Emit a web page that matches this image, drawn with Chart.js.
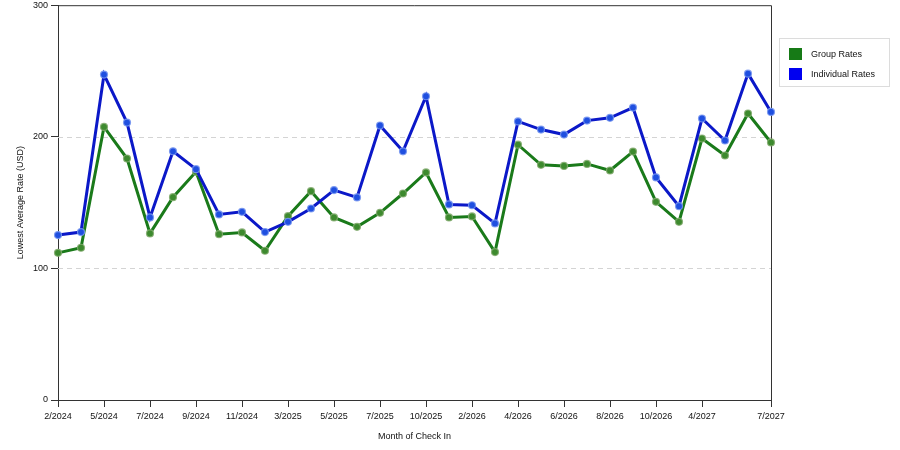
<!DOCTYPE html>
<html>
<head>
<meta charset="utf-8">
<script src="https://cdn.jsdelivr.net/npm/chart.js@4/dist/chart.umd.min.js"></script>
<style>
  html, body { margin: 0; padding: 0; background: #fff; }
  #wrap { width: 900px; height: 450px; }
</style>
</head>
<body>
<div id="wrap"><canvas id="the-chart" width="900" height="450"></canvas></div>
<script>
// Months on the x axis (only some of them carry a visible label)
const months = ['2/2024', '3/2024', '5/2024', '6/2024', '7/2024', '8/2024', '9/2024', '10/2024',
  '11/2024', '1/2025', '3/2025', '4/2025', '5/2025', '6/2025', '7/2025', '9/2025',
  '10/2025', '12/2025', '2/2026', '3/2026', '4/2026', '5/2026', '6/2026', '7/2026',
  '8/2026', '9/2026', '10/2026', '11/2026', '4/2027', '5/2027', '6/2027', '7/2027'];
const shownLabels = ['2/2024', '5/2024', '7/2024', '9/2024', '11/2024', '3/2025', '5/2025', '7/2025',
  '10/2025', '2/2026', '4/2026', '6/2026', '8/2026', '10/2026', '4/2027', '7/2027'];

const groupRates = [111.8, 115.7, 207.5, 183.5, 126.6, 154.1, 173.4, 126.0, 127.3, 113.4, 139.7, 158.7,
  138.7, 131.6, 142.2, 156.9, 172.9, 138.7, 139.5, 112.4, 194.0, 178.7, 177.9, 179.4,
  174.4, 188.8, 150.6, 135.4, 198.7, 185.8, 217.7, 195.7];
const individualRates = [125.3, 127.6, 247.3, 210.8, 138.7, 189.0, 175.4, 141.0, 143.0, 127.6, 135.4, 145.5,
  159.5, 153.9, 208.6, 189.0, 230.8, 148.6, 148.0, 134.2, 211.7, 205.5, 201.7, 212.3,
  214.4, 222.2, 169.1, 147.3, 213.9, 197.2, 248.0, 218.9];

const yTicks = [0, 100, 200, 300];
const gridValues = [100, 200];

const FONT = { family: '"Liberation Sans", Arial, sans-serif', size: 9 };
const AXIS_COLOR = '#333';
const TEXT_COLOR = '#111';

// Frame, dashed grid lines and the boxed legend
const decorations = {
  id: 'decorations',
  beforeDatasetsDraw(chart) {
    const { ctx, chartArea: a } = chart;
    const y = chart.scales.y;
    ctx.save();
    ctx.strokeStyle = '#d4d4d4';
    ctx.lineWidth = 1;
    ctx.setLineDash([5, 4]);
    for (const v of gridValues) {
      const py = Math.round(y.getPixelForValue(v)) + 0.5;
      ctx.beginPath();
      ctx.moveTo(a.left, py);
      ctx.lineTo(a.right, py);
      ctx.stroke();
    }
    ctx.setLineDash([]);
    ctx.strokeStyle = AXIS_COLOR;
    ctx.beginPath();
    ctx.moveTo(a.left, a.top + 0.5);
    ctx.lineTo(a.right + 0.5, a.top + 0.5);
    ctx.lineTo(a.right + 0.5, a.bottom);
    ctx.stroke();
    ctx.restore();
  },
  afterDraw(chart) {
    const ctx = chart.ctx;
    ctx.save();
    ctx.strokeStyle = '#dcdcdc';
    ctx.lineWidth = 1;
    ctx.strokeRect(779.5, 38.5, 110, 48);
    ctx.font = `${FONT.size}px ${FONT.family}`;
    ctx.textBaseline = 'middle';
    const items = [
      { label: 'Group Rates', color: '#167a16', y: 54 },
      { label: 'Individual Rates', color: '#0000f0', y: 74 }
    ];
    for (const it of items) {
      ctx.fillStyle = it.color;
      ctx.fillRect(789, it.y - 6, 13, 12);
      ctx.fillStyle = TEXT_COLOR;
      ctx.fillText(it.label, 811, it.y + 0.5);
    }
    ctx.restore();
  }
};

const ctx = document.getElementById('the-chart');
new Chart(ctx, {
  type: 'line',
  data: {
    labels: months,
    datasets: [
      {
        label: 'Group Rates',
        data: groupRates,
        borderColor: '#1a7a1a',
        backgroundColor: '#1a7a1a',
        borderWidth: 3,
        pointRadius: 3.5,
        pointBackgroundColor: '#3d8a2e',
        pointBorderColor: 'rgba(130,170,110,0.85)',
        pointBorderWidth: 1.2,
        tension: 0,
        clip: false,
        order: 1
      },
      {
        label: 'Individual Rates',
        data: individualRates,
        borderColor: '#0b18c8',
        backgroundColor: '#0b18c8',
        borderWidth: 3,
        pointRadius: 3.5,
        pointBackgroundColor: '#1f4fe0',
        pointBorderColor: 'rgba(120,150,240,0.85)',
        pointBorderWidth: 1.2,
        tension: 0,
        clip: false,
        order: 0
      }
    ]
  },
  options: {
    responsive: false,
    animation: false,
    devicePixelRatio: 1,
    layout: { padding: { top: 0, right: 129, left: 0, bottom: 0 } },
    plugins: {
      legend: { display: false },
      tooltip: { enabled: false }
    },
    scales: {
      x: {
        type: 'category',
        offset: false,
        afterFit: (scale) => { scale.height = 50; },
        border: { display: true, color: AXIS_COLOR, width: 1 },
        grid: {
          drawOnChartArea: false,
          drawTicks: true,
          tickLength: 7,
          color: (c) => shownLabels.includes(months[c.index]) ? AXIS_COLOR : 'rgba(0,0,0,0)'
        },
        ticks: {
          autoSkip: false,
          maxRotation: 0,
          padding: 4,
          color: TEXT_COLOR,
          font: FONT,
          callback: (val, i) => shownLabels.includes(months[i]) ? months[i] : ''
        },
        title: {
          display: true,
          text: 'Month of Check In',
          color: TEXT_COLOR,
          font: FONT,
          padding: { top: 0, bottom: 8 }
        }
      },
      y: {
        min: 0,
        max: 300,
        afterFit: (scale) => {
          scale.width = 58;
          scale.paddingTop = 5;
          scale.paddingBottom = 0;
        },
        afterBuildTicks: (scale) => { scale.ticks = yTicks.map((v) => ({ value: v })); },
        border: { display: true, color: AXIS_COLOR, width: 1 },
        grid: {
          drawOnChartArea: false,
          drawTicks: true,
          tickLength: 7,
          color: AXIS_COLOR
        },
        ticks: {
          padding: 3,
          color: TEXT_COLOR,
          font: FONT
        },
        title: {
          display: true,
          text: 'Lowest Average Rate (USD)',
          color: TEXT_COLOR,
          font: FONT,
          padding: { top: 15, bottom: 0 }
        }
      }
    }
  },
  plugins: [decorations]
});
</script>
</body>
</html>
